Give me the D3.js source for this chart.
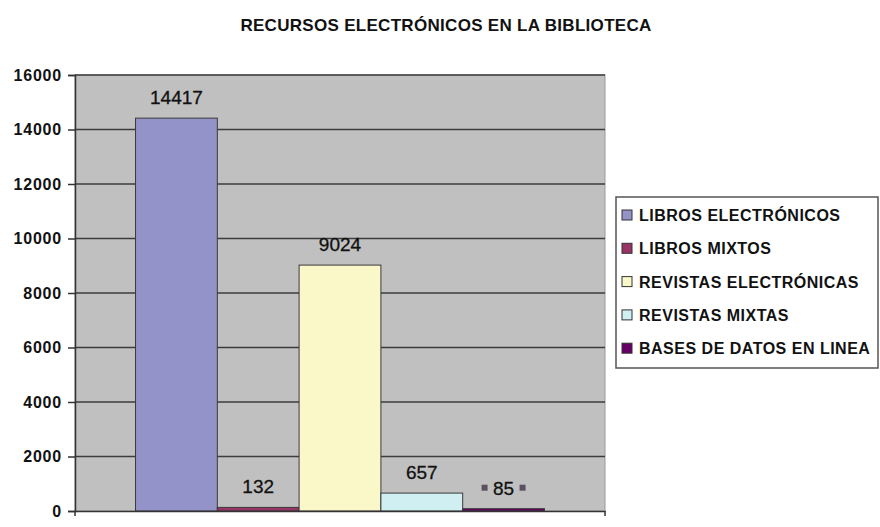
<!DOCTYPE html>
<html>
<head>
<meta charset="utf-8">
<script src="https://cdn.jsdelivr.net/npm/d3@7"></script>
<style>
  body { margin: 0; background: #fff; }
  svg { display: block; font-family: "Liberation Sans", Arial, sans-serif; }
</style>
</head>
<body>
<svg id="chart"></svg>
<script>
const title = "RECURSOS ELECTRÓNICOS EN LA BIBLIOTECA";
const categories = [""];
const seriesNames = ["LIBROS ELECTRÓNICOS", "LIBROS MIXTOS", "REVISTAS ELECTRÓNICAS", "REVISTAS MIXTAS", "BASES DE DATOS EN LINEA"];
const seriesValues = [14417, 132, 9024, 657, 85];
const seriesColors = ["#9393C9", "#993366", "#FAF8C8", "#CFEFF3", "#660066"];
const yTicks = [0, 2000, 4000, 6000, 8000, 10000, 12000, 14000, 16000];

const width = 880, height = 527;
const plot = { left: 75, right: 605, top: 75, bottom: 511 };

const svg = d3.select("#chart").attr("width", width).attr("height", height);

svg.append("rect").attr("width", width).attr("height", height).attr("fill", "#fff");

// title
svg.append("text")
    .attr("x", 446).attr("y", 31)
    .attr("text-anchor", "middle")
    .attr("font-size", "17px")
    .attr("font-weight", "bold")
    .attr("letter-spacing", "0.3px")
    .attr("fill", "#111")
    .text(title);

const y = d3.scaleLinear().domain([0, 16000]).range([plot.bottom, plot.top]);

const x0 = d3.scaleBand()
    .domain(categories)
    .range([plot.left, plot.right])
    .paddingInner(0)
    .paddingOuter(0.148);

const x1 = d3.scaleBand()
    .domain(seriesNames)
    .range([0, x0.bandwidth()]);

// plot background
svg.append("rect")
    .attr("x", plot.left).attr("y", plot.top)
    .attr("width", plot.right - plot.left).attr("height", plot.bottom - plot.top)
    .attr("fill", "#C0C0C0")
    .attr("stroke", "#9a9a9a");

// gridlines
svg.append("g").selectAll("line")
    .data(yTicks.filter(d => d > 0))
    .enter().append("line")
    .attr("x1", plot.left).attr("x2", plot.right)
    .attr("y1", d => y(d)).attr("y2", d => y(d))
    .attr("stroke", "#3c3c3c")
    .attr("stroke-width", 1.5);

const data = seriesNames.map((name, i) => ({ name: name, value: seriesValues[i], color: seriesColors[i] }));

const group = svg.append("g").attr("transform", `translate(${x0(categories[0])},0)`);

group.selectAll(".bar")
    .data(data)
    .enter().append("rect")
    .attr("class", "bar")
    .attr("x", d => x1(d.name))
    .attr("y", d => y(d.value))
    .attr("width", x1.bandwidth())
    .attr("height", d => y(0) - y(d.value))
    .attr("fill", d => d.color)
    .attr("stroke", "#3a3a3a")
    .attr("stroke-width", 1);

group.selectAll(".label")
    .data(data)
    .enter().append("text")
    .attr("class", "label")
    .attr("x", d => x1(d.name) + x1.bandwidth() / 2)
    .attr("y", d => y(d.value) - 14)
    .attr("text-anchor", "middle")
    .attr("font-size", "19px")
    .attr("stroke", "#111")
    .attr("stroke-width", 0.3)
    .attr("fill", "#111")
    .text(d => d.value);

// legend keys shown beside the last label
const last = data[data.length - 1];
const lastCx = x1(last.name) + x1.bandwidth() / 2;
group.selectAll(".lkey")
    .data([-1, 1])
    .enter().append("rect")
    .attr("class", "lkey")
    .attr("x", s => lastCx + s * 19 - 3)
    .attr("y", y(last.value) - 24)
    .attr("width", 6).attr("height", 6)
    .attr("fill", "#5a5060");

// y axis
const yAxis = svg.append("g")
    .attr("transform", `translate(${plot.left},0)`)
    .call(d3.axisLeft(y).tickValues(yTicks).tickSize(7).tickPadding(6).tickFormat(d3.format("d")));
yAxis.select(".domain").attr("stroke", "#333").attr("stroke-width", 1.5);
yAxis.selectAll(".tick line").attr("stroke", "#333").attr("stroke-width", 1.5);
yAxis.selectAll(".tick text")
    .attr("font-size", "16px")
    .attr("font-weight", "bold")
    .attr("letter-spacing", "0.8px")
    .attr("fill", "#111")
    .attr("font-family", "'Liberation Sans', Arial, sans-serif");

// x axis
const xAxis = svg.append("g")
    .attr("transform", `translate(0,${plot.bottom})`)
    .call(d3.axisBottom(x0).tickSize(0).tickFormat(""));
xAxis.select(".domain").attr("stroke", "#333").attr("stroke-width", 1.5);
svg.append("g").selectAll("line")
    .data([plot.left, plot.right])
    .enter().append("line")
    .attr("x1", d => d).attr("x2", d => d)
    .attr("y1", plot.bottom).attr("y2", plot.bottom + 5)
    .attr("stroke", "#333").attr("stroke-width", 1.5);

// legend
const legend = svg.append("g");
legend.append("rect")
    .attr("x", 616).attr("y", 197)
    .attr("width", 262).attr("height", 171)
    .attr("fill", "#fff")
    .attr("stroke", "#555")
    .attr("stroke-width", 1.5);

const items = legend.selectAll(".item")
    .data(data)
    .enter().append("g")
    .attr("class", "item")
    .attr("transform", (d, i) => `translate(622,${215 + i * 33.3})`);

items.append("rect")
    .attr("x", 0).attr("y", -5)
    .attr("width", 10).attr("height", 10)
    .attr("fill", d => d.color)
    .attr("stroke", "#333");

items.append("text")
    .attr("x", 17).attr("y", 6)
    .attr("font-size", "16px")
    .attr("font-weight", "bold")
    .attr("letter-spacing", "0.5px")
    .attr("fill", "#111")
    .text(d => d.name);
</script>
</body>
</html>
